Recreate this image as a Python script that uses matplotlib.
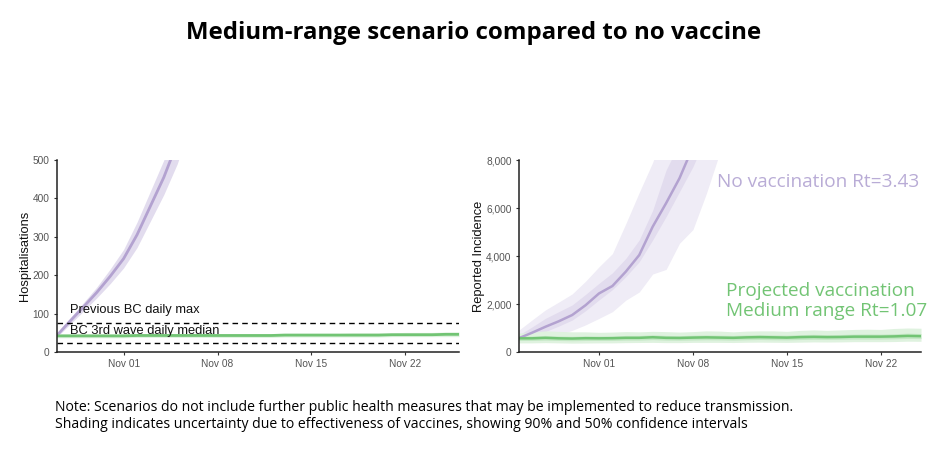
import numpy as np
import pandas as pd
import matplotlib
matplotlib.use("Agg")
import matplotlib.pyplot as plt
import matplotlib.dates as mdates
import matplotlib.ticker as mticker

title = "Medium-range scenario compared to no vaccine"
note = ("Note: Scenarios do not include further public health measures that may be implemented to reduce transmission.\n"
        "Shading indicates uncertainty due to effectiveness of vaccines, showing 90% and 50% confidence intervals")

hosp_dates = pd.date_range("2021-10-27", periods=31)
hosp_vax_med = [42,42,42,42,42,42,43,43,43,43,43,43,43,43,43,43,43,44,44,44,44,44,44,44,44,45,45,45,45,46,46]
hosp_vax_lo = [37,37,37,37,37,37,38,38,38,38,38,38,38,38,38,38,38,39,39,39,39,39,39,39,39,40,40,40,40,40,40]
hosp_vax_hi = [47,47,47,47,47,47,48,48,48,48,48,48,48,48,48,48,48,49,49,49,49,49,50,50,50,50,51,51,51,52,52]
hosp_nov_dates = pd.date_range("2021-10-27", periods=11)
hosp_nov_med = [42,80,117,155,197,243,305,380,455,545,660]
hosp_nov_lo = [38,72,106,141,178,219,272,341,410,490,595]
hosp_nov_hi = [46,88,128,169,216,267,338,419,500,600,725]
bc_max = 75
bc_median = 24

inc_dates = pd.date_range("2021-10-26", periods=31)
inc_nov_dates = pd.date_range("2021-10-26", periods=18)
inc_nov_med = [570,800,1050,1280,1540,1950,2440,2750,3350,4040,5220,6200,7240,8550,10000,11500,13000,14500]
inc_nov_90lo = [430,490,570,720,900,1130,1400,1680,2160,2500,3250,3440,4530,5100,6600,8300,9900,11500]
inc_nov_90hi = [900,1330,1750,2080,2420,2950,3550,4100,5350,6650,7900,9500,11000,12500,14000,15500,17000,18500]
inc_nov_50lo = [500,660,850,1080,1330,1720,2170,2600,3140,3760,4670,5640,6680,7720,9000,10300,11700,13000]
inc_nov_50hi = [700,1040,1400,1680,1960,2400,2860,3300,3900,4670,5900,7580,8700,10000,11400,12800,14200,15600]
inc_vax_med = [570,570,590,570,560,575,570,575,590,590,615,590,585,600,610,600,590,610,620,610,600,620,630,620,625,640,640,640,650,670,660]
inc_vax_90lo = [380,380,390,380,370,375,380,380,390,395,400,390,390,400,400,400,395,405,410,405,400,410,420,415,420,430,430,430,435,450,445]
inc_vax_90hi = [790,820,880,860,840,840,820,830,850,840,860,850,830,850,880,870,840,870,880,880,860,900,920,900,920,940,950,940,980,1000,990]
inc_vax_50lo = [480,480,495,480,470,480,480,480,495,495,515,495,490,500,510,505,495,510,520,510,505,520,530,525,530,540,540,540,550,565,560]
inc_vax_50hi = [660,665,690,665,655,670,665,670,690,690,715,690,680,700,710,700,690,710,725,710,700,725,735,725,730,745,750,745,760,785,770]

purple = "#b3a2d0"
purple_90 = "#efecf6"
purple_50 = "#e2dcee"
green = "#72c474"
green_90 = "#dff2df"
green_50 = "#c4e8c5"
tick_dates = pd.to_datetime(["2021-11-01", "2021-11-08", "2021-11-15", "2021-11-22"])

plt.rcParams["font.family"] = ["Liberation Sans", "DejaVu Sans"]
W, H = 949, 475
fig = plt.figure(figsize=(W/100, H/100), dpi=100, facecolor="white")

def make_ax(left, right, top, bottom):
    ax = fig.add_axes([left/W, 1-bottom/H, (right-left)/W, (bottom-top)/H])
    for s in ("top", "right"):
        ax.spines[s].set_visible(False)
    for s in ("left", "bottom"):
        ax.spines[s].set_linewidth(1.1)
        ax.spines[s].set_color("#222222")
    ax.set_xticks(tick_dates)
    ax.xaxis.set_major_formatter(mdates.DateFormatter("%b %d"))
    ax.tick_params(axis="both", labelsize=7.3, length=2.5, width=0.8, color="#333333",
                   labelcolor="#555555", pad=2.5)
    return ax

# Left panel
ax1 = make_ax(56.5, 459, 160, 352)
ax1.set_xlim(pd.Timestamp("2021-10-27"), pd.Timestamp("2021-11-26"))
ax1.set_ylim(0, 500)
ax1.set_yticks([0, 100, 200, 300, 400, 500])
ax1.fill_between(hosp_nov_dates, hosp_nov_lo, hosp_nov_hi, color=purple_50, lw=0)
ax1.plot(hosp_nov_dates, hosp_nov_med, color=purple, lw=2.0)
ax1.fill_between(hosp_dates, hosp_vax_lo, hosp_vax_hi, color=green_90, lw=0)
ax1.plot(hosp_dates, hosp_vax_med, color=green, lw=2.0)
ax1.axhline(bc_max, color="black", lw=1.0, ls=(0, (4, 3)))
ax1.axhline(bc_median, color="black", lw=1.0, ls=(0, (4, 3)))
ax1.set_ylabel("Hospitalisations", fontsize=9.3, color="#111111", labelpad=0.8)
fig.text(70/W, 1-310.5/H, "Previous BC daily max", fontsize=9.3, va="center", color="#111111")
fig.text(70/W, 1-331/H, "BC 3rd wave daily median", fontsize=9.3, va="center", color="#111111")

# Right panel
ax2 = make_ax(518.5, 921, 160, 352)
ax2.set_xlim(pd.Timestamp("2021-10-26"), pd.Timestamp("2021-11-25"))
ax2.set_ylim(0, 8000)
ax2.set_yticks([0, 2000, 4000, 6000, 8000])
ax2.yaxis.set_major_formatter(mticker.StrMethodFormatter("{x:,.0f}"))
ax2.fill_between(inc_nov_dates, inc_nov_90lo, inc_nov_90hi, color=purple_90, lw=0)
ax2.fill_between(inc_nov_dates, inc_nov_50lo, inc_nov_50hi, color=purple_50, lw=0)
ax2.plot(inc_nov_dates, inc_nov_med, color=purple, lw=1.8)
ax2.fill_between(inc_dates, inc_vax_90lo, inc_vax_90hi, color=green_90, lw=0)
ax2.fill_between(inc_dates, inc_vax_50lo, inc_vax_50hi, color=green_50, lw=0)
ax2.plot(inc_dates, inc_vax_med, color=green, lw=1.8)
ax2.set_ylabel("Reported Incidence", fontsize=9.3, color="#111111", labelpad=0.8)

fig.text(717/W, 1-182/H, "No vaccination Rt=3.43", fontsize=13.65, family="Open Sans",
         color="#b9acd6", va="center")
fig.text(726/W, 1-301/H, "Projected vaccination\nMedium range Rt=1.07", fontsize=13.7, family="Open Sans",
         color=green, va="center", linespacing=1.2)

fig.text(474/W, 1-33/H, title, fontsize=17.25, family="Open Sans", fontweight="bold",
         ha="center", va="center", color="black")
fig.text(55/W, 1-416/H, note, fontsize=10.1, family="Open Sans", va="center", color="black",
         linespacing=1.15)

fig.savefig("out.png", dpi=100)
